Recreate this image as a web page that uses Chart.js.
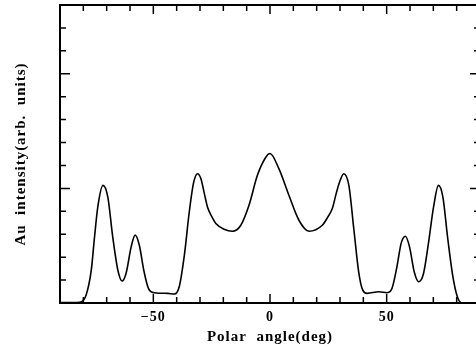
<!DOCTYPE html>
<html><head><meta charset="utf-8">
<script src="https://cdn.jsdelivr.net/npm/chart.js@4"></script>
<style>
html,body{margin:0;padding:0;background:#fff;overflow:hidden}
#wrap{width:476px;height:347px;overflow:hidden;position:relative;background:#fff}
canvas{display:block}
</style></head><body>
<div id="wrap"><canvas id="c" width="482" height="347" style="width:482px;height:347px"></canvas></div>
<script>
const angles = [-90,-85,-81.6,-78.8,-76.6,-75.2,-73.8,-71.6,-69.5,-67.4,-65.2,-63.4,-61.7,-59.5,-57.8,-56.0,-54.1,-52.1,-49.6,-43.8,-41.0,-38.9,-36.7,-34.6,-32.7,-31.0,-29.6,-28.3,-26.8,-25.0,-23.2,-19.7,-16.1,-12.5,-9.0,-5.4,-1.8,0,3.8,8.1,12.4,16.7,22.4,24.6,26.7,28.3,29.8,31.6,33.8,35.9,38.0,39.7,41.6,46.6,50.2,52.3,54.4,56.2,58.0,59.8,61.8,63.7,65.8,67.9,70.1,72.2,74.1,76.1,78.4,80.3,82.2,90];
const intensity = [0.02,0.02,0.03,0.35,1.43,2.88,4.19,5.13,4.62,2.88,1.43,0.96,1.29,2.45,2.96,2.52,1.43,0.64,0.45,0.42,0.39,0.71,2.09,3.97,5.27,5.64,5.42,4.85,4.19,3.78,3.47,3.22,3.13,3.39,4.26,5.57,6.36,6.52,5.86,4.70,3.61,3.13,3.39,3.72,4.12,4.75,5.27,5.64,5.13,3.25,1.36,0.57,0.42,0.49,0.45,0.64,1.58,2.60,2.91,2.45,1.36,0.93,1.29,2.60,4.19,5.13,4.62,2.88,1.14,0.27,0.0,0.0];
const xTickValues = [-50, 0, 50];
const xTickLabels = ['\u221250', '0', '50'];
const xTitle = 'Polar  angle(deg)';
const yTitle = 'Au  intensity(arb.  units)';

const serif = '"Liberation Serif", "Times New Roman", serif';

const spacingPlugin = {
  id: 'spacing',
  beforeUpdate(chart) { chart.ctx.letterSpacing = '1px'; },
  beforeDraw(chart) { chart.ctx.letterSpacing = '1px'; }
};

const framePlugin = {
  id: 'frame',
  afterDraw(chart) {
    const {ctx, chartArea: a, scales: {x, y}} = chart;
    ctx.save();
    ctx.strokeStyle = '#000';
    ctx.lineWidth = 2;
    ctx.beginPath();
    ctx.moveTo(a.left, a.bottom);
    ctx.lineTo(a.left, a.top);
    ctx.lineTo(a.right, a.top);
    ctx.lineTo(a.right, a.bottom);
    ctx.closePath();
    ctx.stroke();
    ctx.lineWidth = 1.5;
    ctx.beginPath();
    for (let v = -90; v <= 90; v += 10) {
      const px = x.getPixelForValue(v);
      const L = (v % 50 === 0) ? 9 : 6;
      ctx.moveTo(px, a.bottom); ctx.lineTo(px, a.bottom - L);
      ctx.moveTo(px, a.top); ctx.lineTo(px, a.top + L);
    }
    for (let v = 0; v <= 13; v += 1) {
      const py = y.getPixelForValue(v);
      const L = (v % 5 === 0) ? 10 : 6;
      ctx.moveTo(a.left, py); ctx.lineTo(a.left + L, py);
      ctx.moveTo(a.right, py); ctx.lineTo(a.right - L, py);
    }
    ctx.stroke();
    ctx.restore();
  }
};

new Chart(document.getElementById('c'), {
  type: 'line',
  data: {
    datasets: [{
      data: angles.map((a, i) => ({x: a, y: intensity[i]})),
      borderColor: '#000',
      borderWidth: 1.6,
      pointRadius: 0,
      fill: false,
      cubicInterpolationMode: 'monotone',
      clip: false
    }]
  },
  options: {
    responsive: false,
    animation: false,
    devicePixelRatio: 1,
    layout: {padding: {top: 5, right: 2, left: 0, bottom: 0}},
    plugins: {legend: {display: false}, tooltip: {enabled: false}},
    scales: {
      x: {
        type: 'linear', min: -90, max: 90,
        afterFit(s) { s.height = 44; },
        afterBuildTicks(s) { s.ticks = xTickValues.map(v => ({value: v})); },
        grid: {display: false}, border: {display: false},
        ticks: {
          autoSkip: false, maxRotation: 0, padding: -2, color: '#000',
          font: {family: serif, size: 14, weight: 'bold'},
          callback: (v) => { const i = xTickValues.indexOf(v); return i >= 0 ? xTickLabels[i] : ''; }
        },
        title: {display: true, text: xTitle, color: '#000',
          font: {family: serif, size: 15, weight: 'bold'}, padding: {top: 0, bottom: 1}}
      },
      y: {
        type: 'linear', min: 0, max: 13,
        afterFit(s) { s.width = 60; },
        grid: {display: false}, border: {display: false},
        ticks: {display: false},
        title: {display: true, text: yTitle, color: '#000',
          font: {family: serif, size: 15, weight: 'bold'}, padding: {top: 12, bottom: 0}}
      }
    }
  },
  plugins: [spacingPlugin, framePlugin]
});
</script>
</body></html>
